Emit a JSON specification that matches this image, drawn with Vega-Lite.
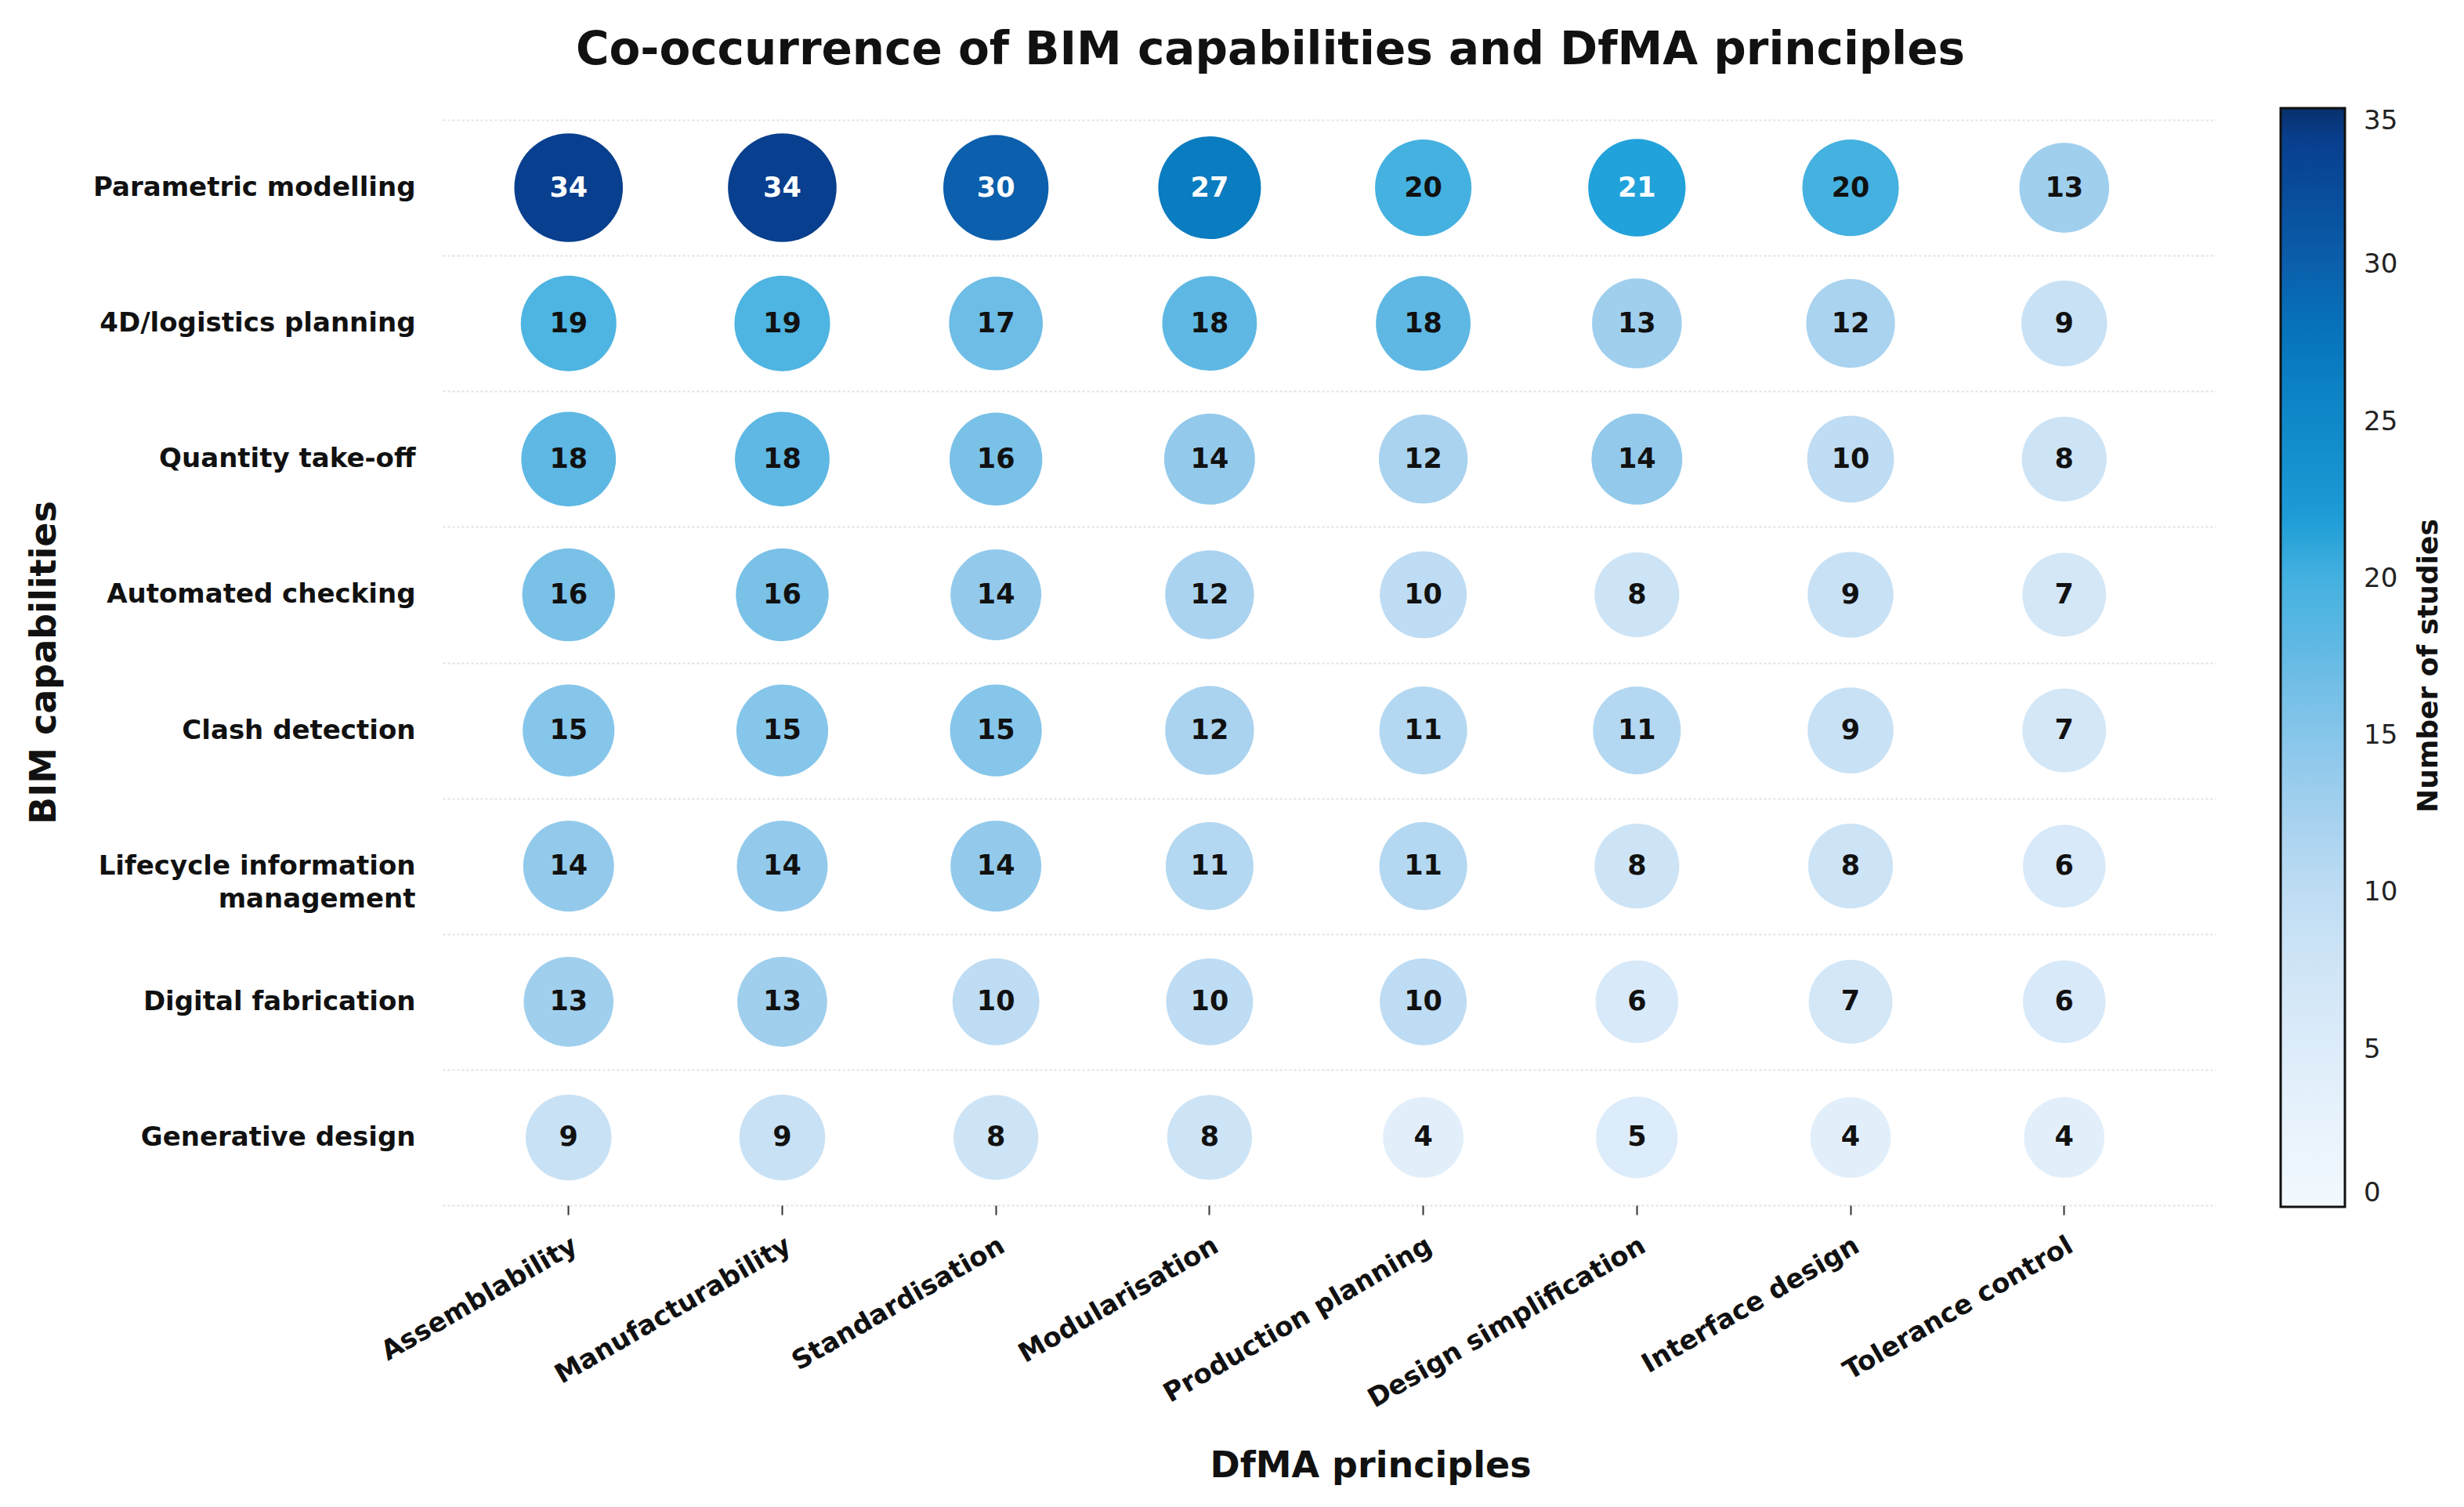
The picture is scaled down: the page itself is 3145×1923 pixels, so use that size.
{
  "$schema": "https://vega.github.io/schema/vega-lite/v6.json",
  "autosize": {"type": "none"},
  "width": 2263,
  "height": 1385,
  "padding": {"left": 565, "top": 153, "right": 317, "bottom": 385},
  "background": "white",
  "config": {"font": "DejaVu Sans", "view": {"stroke": null}},
  "title": {
    "text": "Co-occurrence of BIM capabilities and DfMA principles",
    "fontSize": 58,
    "fontWeight": "bold",
    "font": "DejaVu Sans",
    "color": "#111111",
    "anchor": "middle",
    "frame": "group",
    "dx": -75,
    "dy": 64,
    "baseline": "alphabetic",
    "offset": 60
  },
  "data": {
    "values": [
      {"bim": "Parametric modelling", "dfma": "Assemblability", "value": 34},
      {"bim": "Parametric modelling", "dfma": "Manufacturability", "value": 34},
      {"bim": "Parametric modelling", "dfma": "Standardisation", "value": 30},
      {"bim": "Parametric modelling", "dfma": "Modularisation", "value": 27},
      {"bim": "Parametric modelling", "dfma": "Production planning", "value": 20},
      {"bim": "Parametric modelling", "dfma": "Design simplification", "value": 21},
      {"bim": "Parametric modelling", "dfma": "Interface design", "value": 20},
      {"bim": "Parametric modelling", "dfma": "Tolerance control", "value": 13},
      {"bim": "4D/logistics planning", "dfma": "Assemblability", "value": 19},
      {"bim": "4D/logistics planning", "dfma": "Manufacturability", "value": 19},
      {"bim": "4D/logistics planning", "dfma": "Standardisation", "value": 17},
      {"bim": "4D/logistics planning", "dfma": "Modularisation", "value": 18},
      {"bim": "4D/logistics planning", "dfma": "Production planning", "value": 18},
      {"bim": "4D/logistics planning", "dfma": "Design simplification", "value": 13},
      {"bim": "4D/logistics planning", "dfma": "Interface design", "value": 12},
      {"bim": "4D/logistics planning", "dfma": "Tolerance control", "value": 9},
      {"bim": "Quantity take-off", "dfma": "Assemblability", "value": 18},
      {"bim": "Quantity take-off", "dfma": "Manufacturability", "value": 18},
      {"bim": "Quantity take-off", "dfma": "Standardisation", "value": 16},
      {"bim": "Quantity take-off", "dfma": "Modularisation", "value": 14},
      {"bim": "Quantity take-off", "dfma": "Production planning", "value": 12},
      {"bim": "Quantity take-off", "dfma": "Design simplification", "value": 14},
      {"bim": "Quantity take-off", "dfma": "Interface design", "value": 10},
      {"bim": "Quantity take-off", "dfma": "Tolerance control", "value": 8},
      {"bim": "Automated checking", "dfma": "Assemblability", "value": 16},
      {"bim": "Automated checking", "dfma": "Manufacturability", "value": 16},
      {"bim": "Automated checking", "dfma": "Standardisation", "value": 14},
      {"bim": "Automated checking", "dfma": "Modularisation", "value": 12},
      {"bim": "Automated checking", "dfma": "Production planning", "value": 10},
      {"bim": "Automated checking", "dfma": "Design simplification", "value": 8},
      {"bim": "Automated checking", "dfma": "Interface design", "value": 9},
      {"bim": "Automated checking", "dfma": "Tolerance control", "value": 7},
      {"bim": "Clash detection", "dfma": "Assemblability", "value": 15},
      {"bim": "Clash detection", "dfma": "Manufacturability", "value": 15},
      {"bim": "Clash detection", "dfma": "Standardisation", "value": 15},
      {"bim": "Clash detection", "dfma": "Modularisation", "value": 12},
      {"bim": "Clash detection", "dfma": "Production planning", "value": 11},
      {"bim": "Clash detection", "dfma": "Design simplification", "value": 11},
      {"bim": "Clash detection", "dfma": "Interface design", "value": 9},
      {"bim": "Clash detection", "dfma": "Tolerance control", "value": 7},
      {"bim": "Lifecycle information management", "dfma": "Assemblability", "value": 14},
      {"bim": "Lifecycle information management", "dfma": "Manufacturability", "value": 14},
      {"bim": "Lifecycle information management", "dfma": "Standardisation", "value": 14},
      {"bim": "Lifecycle information management", "dfma": "Modularisation", "value": 11},
      {"bim": "Lifecycle information management", "dfma": "Production planning", "value": 11},
      {"bim": "Lifecycle information management", "dfma": "Design simplification", "value": 8},
      {"bim": "Lifecycle information management", "dfma": "Interface design", "value": 8},
      {"bim": "Lifecycle information management", "dfma": "Tolerance control", "value": 6},
      {"bim": "Digital fabrication", "dfma": "Assemblability", "value": 13},
      {"bim": "Digital fabrication", "dfma": "Manufacturability", "value": 13},
      {"bim": "Digital fabrication", "dfma": "Standardisation", "value": 10},
      {"bim": "Digital fabrication", "dfma": "Modularisation", "value": 10},
      {"bim": "Digital fabrication", "dfma": "Production planning", "value": 10},
      {"bim": "Digital fabrication", "dfma": "Design simplification", "value": 6},
      {"bim": "Digital fabrication", "dfma": "Interface design", "value": 7},
      {"bim": "Digital fabrication", "dfma": "Tolerance control", "value": 6},
      {"bim": "Generative design", "dfma": "Assemblability", "value": 9},
      {"bim": "Generative design", "dfma": "Manufacturability", "value": 9},
      {"bim": "Generative design", "dfma": "Standardisation", "value": 8},
      {"bim": "Generative design", "dfma": "Modularisation", "value": 8},
      {"bim": "Generative design", "dfma": "Production planning", "value": 4},
      {"bim": "Generative design", "dfma": "Design simplification", "value": 5},
      {"bim": "Generative design", "dfma": "Interface design", "value": 4},
      {"bim": "Generative design", "dfma": "Tolerance control", "value": 4}
    ]
  },
  "encoding": {
    "x": {
      "field": "dfma",
      "type": "nominal",
      "sort": ["Assemblability", "Manufacturability", "Standardisation", "Modularisation", "Production planning", "Design simplification", "Interface design", "Tolerance control"],
      "scale": {"type": "band", "paddingInner": 0, "paddingOuter": 0.149, "align": 0.3},
      "axis": {
        "title": "DfMA principles",
        "titleFontSize": 46,
        "titleFontWeight": "bold",
        "titleColor": "#111111",
        "titleX": 1184,
        "titleY": 332,
        "titleBaseline": "middle",
        "titleAlign": "center",
        "labelAngle": -30,
        "labelAlign": "right",
        "labelBaseline": "top",
        "labelFontSize": 34,
        "labelFontWeight": "bold",
        "labelColor": "#111111",
        "labelPadding": 22,
        "labelLimit": 800,
        "ticks": true,
        "tickSize": 12,
        "tickWidth": 2,
        "tickColor": "#333333",
        "domain": false,
        "grid": false
      }
    }
  },
  "resolve": {"axis": {"y": "independent"}},
  "layer": [
    {
      "mark": {"type": "circle", "opacity": 1},
      "encoding": {
        "y": {
          "field": "bim",
          "type": "nominal",
          "sort": ["Parametric modelling", "4D/logistics planning", "Quantity take-off", "Automated checking", "Clash detection", "Lifecycle information management", "Digital fabrication", "Generative design"],
          "scale": {"type": "band", "paddingInner": 0, "paddingOuter": 0},
          "axis": {
            "orient": "left",
            "title": "BIM capabilities",
            "titleFontSize": 46,
            "titleFontWeight": "bold",
            "titleColor": "#111111",
            "titleX": -509,
            "titleY": 692,
            "titleAngle": -90,
            "titleBaseline": "middle",
            "titleAlign": "center",
            "labelFontSize": 34,
            "labelFontWeight": "bold",
            "labelColor": "#111111",
            "labelPadding": 35,
            "labelLimit": 800,
            "labelLineHeight": 42,
            "labelExpr": "datum.value == 'Lifecycle information management' ? ['Lifecycle information', 'management'] : datum.value",
            "tickBand": "extent",
            "ticks": false,
            "domain": false,
            "grid": true,
            "gridColor": "#e2e2e2",
            "gridDash": [3, 3],
            "gridWidth": 2
          }
        },
        "size": {
          "field": "value",
          "type": "quantitative",
          "scale": {"domain": [0, 35], "range": [9400, 19500], "zero": false},
          "legend": null
        },
        "color": {
          "field": "value",
          "type": "quantitative",
          "scale": {
            "domain": [0, 4, 9, 11, 13, 15, 19, 20, 21, 27, 30, 34, 35],
            "range": ["#f3f9fe", "#e2effb", "#c8e1f5", "#b4d8f1", "#a0cfee", "#86c6ea", "#4eb4e1", "#44b1e0", "#22a2da", "#0a7cc0", "#0b5fac", "#083f8e", "#08306b"]
          },
          "legend": {
            "title": null,
            "orient": "none",
            "legendX": 2346,
            "legendY": -15,
            "direction": "vertical",
            "padding": 0,
            "gradientLength": 1402,
            "gradientThickness": 82,
            "gradientStrokeColor": "#111111",
            "gradientStrokeWidth": 3,
            "values": [0, 5, 10, 15, 20, 25, 30, 35],
            "labelOverlap": false,
            "labelFontSize": 34,
            "labelColor": "#222222",
            "labelOffset": 24,
            "labelBaseline": "middle"
          }
        }
      }
    },
    {
      "mark": {"type": "text", "fontSize": 35, "fontWeight": "bold", "font": "DejaVu Sans", "baseline": "middle", "align": "center"},
      "encoding": {
        "y": {
          "field": "bim",
          "type": "nominal",
          "sort": ["Parametric modelling", "4D/logistics planning", "Quantity take-off", "Automated checking", "Clash detection", "Lifecycle information management", "Digital fabrication", "Generative design"],
          "axis": {
            "orient": "right",
            "title": "Number of studies",
            "titleFontSize": 36,
            "titleFontWeight": "bold",
            "titleColor": "#111111",
            "titleAngle": -90,
            "titleX": 271,
            "titleY": 696,
            "titleAlign": "center",
            "titleBaseline": "middle",
            "labels": false,
            "ticks": false,
            "domain": false,
            "grid": false
          }
        },
        "text": {"field": "value", "type": "quantitative"},
        "color": {
          "condition": {"test": "datum.value >= 21", "value": "#ffffff"},
          "value": "#111111"
        }
      }
    }
  ]
}
